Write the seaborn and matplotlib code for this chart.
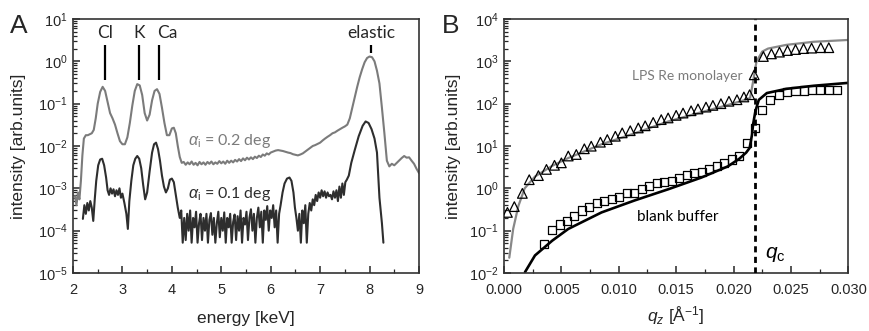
import numpy as np
import matplotlib
matplotlib.use("Agg")
import matplotlib.pyplot as plt
import seaborn as sns
from matplotlib.ticker import MultipleLocator, FormatStrFormatter, LogLocator

# --- panel A: fluorescence spectra (energy in keV, intensity in arb. units) ---
energia_02 = [2.04, 2.07, 2.10, 2.13, 2.16, 2.19, 2.22, 2.26, 2.30, 2.34, 2.38, 2.42, 2.46, 2.50, 2.55,
              2.60, 2.65, 2.70, 2.75, 2.80, 2.85, 2.90, 2.95, 3.00, 3.05, 3.10, 3.15, 3.20, 3.25, 3.30,
              3.35, 3.40, 3.45, 3.50, 3.55, 3.60, 3.65, 3.70, 3.75, 3.80, 3.85, 3.90, 3.95, 4.00, 4.04,
              4.08, 4.12, 4.16, 4.20, 4.24, 4.28, 4.32, 4.36, 4.40, 4.44, 4.48, 4.52, 4.56, 4.60, 4.64,
              4.68, 4.72, 4.76, 4.80, 4.84, 4.88, 4.92, 4.96, 5.00, 5.04, 5.08, 5.12, 5.16, 5.20, 5.24,
              5.28, 5.32, 5.36, 5.40, 5.44, 5.48, 5.52, 5.56, 5.60, 5.64, 5.68, 5.72, 5.76, 5.80, 5.84,
              5.88, 5.92, 5.96, 6.00, 6.05, 6.10, 6.15, 6.20, 6.25, 6.30, 6.35, 6.40, 6.45, 6.50, 6.55,
              6.60, 6.65, 6.70, 6.75, 6.80, 6.85, 6.90, 6.95, 7.00, 7.05, 7.10, 7.15, 7.20, 7.25, 7.30,
              7.35, 7.40, 7.45, 7.50, 7.55, 7.60, 7.65, 7.70, 7.75, 7.80, 7.85, 7.90, 7.95, 8.00, 8.05,
              8.10, 8.15, 8.20, 8.25, 8.30, 8.35, 8.40, 8.45, 8.50, 8.55, 8.60, 8.65, 8.70, 8.75, 8.80,
              8.85, 8.90, 8.95, 9.00]
intens_02 = [6.6e-4, 4.0e-4, 8.0e-4, 5.5e-4, 1.5e-3, 6.0e-3, 1.5e-2, 1.8e-2, 1.8e-2, 1.9e-2, 2.0e-2, 2.4e-2, 4.5e-2, 1.0e-1, 1.9e-1,
             2.5e-1, 2.0e-1, 1.1e-1, 6.0e-2, 4.5e-2, 3.2e-2, 2.0e-2, 1.3e-2, 1.1e-2, 1.1e-2, 1.6e-2, 3.5e-2, 9.0e-2, 2.0e-1, 2.9e-1,
             2.7e-1, 1.6e-1, 6.0e-2, 4.0e-2, 5.5e-2, 1.2e-1, 2.0e-1, 2.2e-1, 1.7e-1, 8.0e-2, 3.5e-2, 1.8e-2, 1.8e-2, 2.6e-2, 2.7e-2,
             2.0e-2, 1.0e-2, 5.5e-3, 4.0e-3, 4.2e-3, 3.6e-3, 4.1e-3, 3.7e-3, 4.3e-3, 3.6e-3, 4.0e-3, 3.5e-3, 4.2e-3, 3.7e-3, 4.1e-3,
             3.6e-3, 4.2e-3, 3.8e-3, 4.3e-3, 3.7e-3, 4.1e-3, 3.8e-3, 4.4e-3, 3.9e-3, 4.3e-3, 3.8e-3, 4.5e-3, 4.0e-3, 4.5e-3, 4.1e-3,
             4.7e-3, 4.3e-3, 4.9e-3, 4.4e-3, 5.1e-3, 4.6e-3, 5.3e-3, 4.8e-3, 5.4e-3, 4.9e-3, 5.6e-3, 5.2e-3, 5.9e-3, 5.5e-3, 6.3e-3,
             5.9e-3, 6.7e-3, 6.3e-3, 7.0e-3, 7.4e-3, 7.8e-3, 8.0e-3, 7.8e-3, 7.6e-3, 7.3e-3, 7.0e-3, 6.8e-3, 6.4e-3, 6.2e-3, 6.0e-3,
             6.3e-3, 6.7e-3, 7.4e-3, 8.2e-3, 9.0e-3, 1.0e-2, 1.05e-2, 1.12e-2, 1.2e-2, 1.35e-2, 1.5e-2, 1.65e-2, 1.8e-2, 2.0e-2, 2.1e-2,
             2.3e-2, 2.5e-2, 2.7e-2, 2.9e-2, 3.2e-2, 4.5e-2, 8.0e-2, 1.4e-1, 2.5e-1, 4.2e-1, 6.5e-1, 9.5e-1, 1.2, 1.3, 1.25,
             1.0, 6.0e-1, 3.0e-1, 8.0e-2, 2.0e-2, 4.5e-3, 3.3e-3, 3.8e-3, 3.5e-3, 4.0e-3, 4.6e-3, 5.2e-3, 5.8e-3, 5.3e-3, 5.4e-3,
             4.5e-3, 3.8e-3, 2.9e-3, 2.3e-3]

energia_01 = [2.20, 2.23, 2.26, 2.29, 2.32, 2.35, 2.38, 2.41, 2.44, 2.47, 2.51, 2.55, 2.59, 2.63, 2.67,
              2.70, 2.73, 2.76, 2.79, 2.82, 2.85, 2.88, 2.91, 2.94, 2.97, 3.00, 3.04, 3.08, 3.11, 3.14,
              3.18, 3.22, 3.26, 3.30, 3.34, 3.38, 3.42, 3.46, 3.50, 3.55, 3.60, 3.64, 3.68, 3.72, 3.76,
              3.80, 3.84, 3.88, 3.92, 3.96, 4.00, 4.04, 4.08, 4.12, 4.16, 4.19, 4.22, 4.25, 4.28, 4.31,
              4.34, 4.37, 4.40, 4.43, 4.46, 4.49, 4.52, 4.55, 4.58, 4.61, 4.64, 4.67, 4.70, 4.73, 4.76,
              4.79, 4.82, 4.85, 4.88, 4.91, 4.94, 4.97, 5.00, 5.03, 5.06, 5.09, 5.12, 5.15, 5.18, 5.21,
              5.24, 5.27, 5.30, 5.33, 5.36, 5.39, 5.42, 5.45, 5.48, 5.51, 5.54, 5.57, 5.60, 5.63, 5.66,
              5.69, 5.72, 5.75, 5.78, 5.81, 5.84, 5.87, 5.90, 5.93, 5.96, 5.99, 6.02, 6.05, 6.08, 6.11,
              6.14, 6.17, 6.20, 6.24, 6.28, 6.33, 6.38, 6.42, 6.46, 6.49, 6.52, 6.55, 6.58, 6.61, 6.64,
              6.67, 6.70, 6.73, 6.76, 6.79, 6.82, 6.85, 6.88, 6.91, 6.94, 6.97, 7.00, 7.03, 7.06, 7.09,
              7.12, 7.15, 7.18, 7.21, 7.24, 7.27, 7.30, 7.33, 7.36, 7.39, 7.42, 7.45, 7.48, 7.51, 7.54,
              7.58, 7.63, 7.70, 7.78, 7.86, 7.92, 7.98, 8.04, 8.10, 8.15, 8.20, 8.25, 8.28]
intens_01 = [1.9e-4, 4.0e-4, 2.5e-4, 4.5e-4, 3.0e-4, 5.0e-4, 3.5e-4, 1.7e-4, 5.5e-4, 1.5e-3, 3.5e-3, 4.8e-3, 5.0e-3, 3.5e-3, 1.8e-3,
             9.0e-4, 7.0e-4, 1.0e-3, 7.5e-4, 9.5e-4, 6.5e-4, 9.0e-4, 7.0e-4, 1.0e-3, 6.0e-4, 7.5e-4, 4.5e-4, 2.5e-4, 1.1e-4, 5.0e-4,
             1.5e-3, 3.5e-3, 5.0e-3, 5.8e-3, 5.0e-3, 3.0e-3, 1.2e-3, 5.5e-4, 8.0e-4, 2.5e-3, 7.0e-3, 1.1e-2, 1.2e-2, 8.5e-3, 4.5e-3,
             2.0e-3, 1.1e-3, 8.0e-4, 1.0e-3, 1.6e-3, 1.7e-3, 1.4e-3, 7.0e-4, 3.5e-4, 2.0e-4, 3.0e-4, 5.2e-5, 2.0e-4, 6.0e-5, 2.5e-4,
             1.0e-4, 3.0e-4, 5.2e-5, 2.0e-4, 1.2e-4, 2.8e-4, 5.2e-5, 1.5e-4, 2.5e-4, 6.0e-5, 2.0e-4, 1.0e-4, 2.5e-4, 5.2e-5, 1.8e-4,
             2.6e-4, 8.0e-5, 2.0e-4, 5.2e-5, 1.5e-4, 2.8e-4, 7.0e-5, 2.0e-4, 1.0e-4, 2.7e-4, 5.2e-5, 2.0e-4, 1.2e-4, 2.5e-4, 5.2e-5,
             1.6e-4, 2.4e-4, 6.0e-5, 2.2e-4, 1.0e-4, 3.0e-4, 5.2e-5, 2.0e-4, 1.4e-4, 2.8e-4, 6.0e-5, 2.0e-4, 3.2e-4, 1.0e-4, 2.5e-4,
             5.2e-5, 2.0e-4, 3.5e-4, 1.2e-4, 2.8e-4, 5.2e-5, 3.0e-4, 1.8e-4, 3.8e-4, 1.0e-4, 3.0e-4, 2.0e-4, 4.0e-4, 1.2e-4, 3.0e-4,
             5.2e-5, 2.5e-4, 4.0e-4, 8.0e-4, 1.3e-3, 1.7e-3, 1.8e-3, 1.5e-3, 8.0e-4, 3.5e-4, 2.0e-4, 1.0e-4, 2.5e-4, 5.2e-5, 3.0e-4,
             1.5e-4, 4.0e-4, 5.2e-5, 2.5e-4, 4.5e-4, 3.0e-4, 5.5e-4, 4.0e-4, 7.0e-4, 5.0e-4, 8.0e-4, 6.0e-4, 9.0e-4, 6.5e-4, 8.5e-4,
             6.0e-4, 8.0e-4, 6.5e-4, 7.0e-4, 5.5e-4, 8.5e-4, 6.0e-4, 9.0e-4, 5.0e-4, 1.1e-3, 6.0e-4, 1.3e-3, 7.0e-4, 1.4e-3, 1.6e-3,
             2.0e-3, 4.0e-3, 8.0e-3, 1.7e-2, 3.0e-2, 3.8e-2, 3.5e-2, 2.5e-2, 1.5e-2, 7.0e-3, 6.0e-4, 1.5e-4, 5.2e-5]

pierwiastki = ["Cl", "K", "Ca"]
pierwiastki_energia = [2.65, 3.335, 3.75]
pierwiastki_tekst_x = [2.65, 3.335, 3.90]
elastic_energia = 8.03

# --- panel B: reflectivity-like curves vs q_z ---
q_lps = [0.0003, 0.0009, 0.0016, 0.0022, 0.0030, 0.0037, 0.0044, 0.0050, 0.0056, 0.0063, 0.0070, 0.0076,
         0.0084, 0.0090, 0.0097, 0.0103, 0.0110, 0.0117, 0.0123, 0.0130, 0.0137, 0.0143, 0.0150, 0.0156,
         0.0163, 0.0169, 0.0176, 0.0182, 0.0189, 0.0196, 0.0203, 0.0209, 0.0214, 0.0218, 0.0226, 0.0233,
         0.0240, 0.0247, 0.0254, 0.0261, 0.0268, 0.0276, 0.0283]
i_lps = [0.27, 0.37, 0.76, 1.6, 2.0, 2.8, 3.5, 4.0, 5.8, 6.3, 8.6, 9.9,
         12.3, 14.2, 17, 20.4, 23, 26.7, 30, 36, 42, 46, 53, 60,
         68, 75, 83, 91, 100, 114, 124, 144, 163, 480, 1300, 1500,
         1650, 1800, 1900, 2000, 2050, 2100, 2100]

q_bufor = [0.00351, 0.00416, 0.00485, 0.00550, 0.00613, 0.00677, 0.00744, 0.00807, 0.00874, 0.00938,
           0.01005, 0.01069, 0.01136, 0.01200, 0.01266, 0.01330, 0.01397, 0.01461, 0.01528, 0.01592,
           0.01658, 0.01722, 0.01786, 0.01853, 0.01920, 0.01984, 0.02048, 0.02117, 0.02189, 0.02247,
           0.02320, 0.02392, 0.02465, 0.02540, 0.02610, 0.02680, 0.02750, 0.02830, 0.02900]
i_bufor = [0.048, 0.105, 0.14, 0.17, 0.22, 0.30, 0.37, 0.44, 0.50, 0.55,
           0.63, 0.76, 0.79, 0.95, 1.13, 1.36, 1.41, 1.49, 1.78, 2.02,
           2.34, 2.42, 2.8, 3.35, 4.0, 4.8, 5.8, 12, 27, 72,
           123, 162, 186, 200, 205, 208, 210, 210, 210]

q_fit_lps = [0.00046, 0.0008, 0.00125, 0.0018, 0.0027, 0.0042, 0.0056, 0.0085, 0.0114, 0.0143, 0.0172,
             0.0195, 0.0213, 0.02145, 0.0217, 0.0220, 0.0225, 0.0230, 0.0246, 0.0270, 0.0300]
i_fit_lps = [0.023, 0.11, 0.38, 1.0, 1.9, 3.4, 5.2, 11, 20, 38, 63,
             93, 130, 140, 330, 1000, 1700, 2000, 2450, 2900, 3200]

q_fit_bufor = [0.00183, 0.0027, 0.0042, 0.0056, 0.0085, 0.0114, 0.0143, 0.0172, 0.0195, 0.0205, 0.0211,
               0.0214, 0.0216, 0.0217, 0.0219, 0.0222, 0.0229, 0.0246, 0.0270, 0.0300]
i_fit_bufor = [0.0105, 0.026, 0.058, 0.11, 0.27, 0.52, 0.95, 1.8, 3.3, 5.0, 7.0,
               9.0, 18, 32, 66, 123, 178, 224, 265, 310]

q_c = 0.0219

# --- style ---
sns.set_style("ticks")
plt.rcParams["font.family"] = ["Liberation Sans", "DejaVu Sans"]
plt.rcParams["mathtext.fontset"] = "custom"
plt.rcParams["mathtext.rm"] = "Liberation Sans"
plt.rcParams["mathtext.it"] = "Liberation Sans:italic"
plt.rcParams["axes.edgecolor"] = "#333333"
plt.rcParams["axes.linewidth"] = 1.2

SZARY = "#7b7b7b"
CIEMNY = "#2e2e2e"
ADNOT = ["Lato", "DejaVu Sans"]

fig = plt.figure(figsize=(8.7, 3.31), dpi=100)
axA = fig.add_axes([0.0839, 0.1752, 0.3977, 0.7674])
axB = fig.add_axes([0.5793, 0.1752, 0.3958, 0.7674])

# panel A
sns.lineplot(x=energia_02, y=intens_02, ax=axA, color=SZARY, linewidth=1.5, estimator=None, sort=False)
sns.lineplot(x=energia_01, y=intens_01, ax=axA, color=CIEMNY, linewidth=1.5, estimator=None, sort=False)
axA.set_yscale("log")
axA.set_xlim(2, 9)
axA.set_ylim(1e-5, 10)
axA.xaxis.set_major_locator(MultipleLocator(1))
axA.xaxis.set_minor_locator(MultipleLocator(0.5))

for nazwa, e_lin, e_txt in zip(pierwiastki, pierwiastki_energia, pierwiastki_tekst_x):
    axA.vlines(e_lin, 0.37, 2.45, color="black", linewidth=1.6)
    axA.text(e_txt, 4.7, nazwa, ha="center", va="center", fontsize=12.5, family=ADNOT)
axA.vlines(elastic_energia, 1.55, 2.45, color="black", linewidth=1.6)
axA.text(8.04, 4.7, "elastic", ha="center", va="center", fontsize=12.5, family=ADNOT)
axA.text(4.33, 1.3e-2, r"$\alpha_{\mathrm{i}}$ = 0.2 deg", ha="left", va="center",
         fontsize=11.5, color=SZARY, family=ADNOT)
axA.text(4.33, 7.2e-4, r"$\alpha_{\mathrm{i}}$ = 0.1 deg", ha="left", va="center",
         fontsize=11.5, color=CIEMNY, family=ADNOT)
axA.set_xlabel("energy [keV]", fontsize=12.5)
axA.set_ylabel("intensity [arb.units]", fontsize=12.5)

# panel B
sns.lineplot(x=q_fit_lps, y=i_fit_lps, ax=axB, color="#888888", linewidth=1.6, estimator=None, sort=False)
sns.lineplot(x=q_fit_bufor, y=i_fit_bufor, ax=axB, color="black", linewidth=1.9, estimator=None, sort=False)
sns.scatterplot(x=q_lps, y=i_lps, ax=axB, marker="^", s=48, color="black", facecolor="none",
                edgecolor="black", linewidth=0.9, zorder=3)
sns.scatterplot(x=q_bufor, y=i_bufor, ax=axB, marker="s", s=34, color="black", facecolor="none",
                edgecolor="black", linewidth=0.9, zorder=3)
axB.axvline(q_c, color="black", linewidth=2.0, linestyle=(0, (2.2, 1.6)), zorder=4)
axB.set_yscale("log")
axB.set_xlim(0, 0.03)
axB.set_ylim(1e-2, 1e4)
axB.xaxis.set_major_locator(MultipleLocator(0.005))
axB.xaxis.set_minor_locator(MultipleLocator(0.0025))
axB.xaxis.set_major_formatter(FormatStrFormatter("%.3f"))
axB.text(0.01113, 440, "LPS Re monolayer", ha="left", va="center", fontsize=10, color=SZARY, family=ADNOT)
axB.text(0.01157, 0.205, "blank buffer", ha="left", va="center", fontsize=11, color="black", family=ADNOT)
axB.text(0.02276, 0.028, r"$q_{\mathrm{c}}$", ha="left", va="center", fontsize=15, color="black")
axB.set_xlabel(r"$q_z$ [Å$^{-1}$]", fontsize=12.5)
axB.set_ylabel("intensity [arb.units]", fontsize=12.5)

for ax in (axA, axB):
    ax.yaxis.set_major_locator(LogLocator(base=10, numticks=12))
    ax.yaxis.set_minor_locator(LogLocator(base=10, subs=np.arange(2, 10), numticks=12))
    ax.tick_params(which="major", direction="in", length=5, width=1.1, labelsize=10.5, pad=4)
    ax.tick_params(axis="x", which="major", pad=7)
    ax.tick_params(which="minor", direction="in", length=3, width=0.9)
    for sp in ax.spines.values():
        sp.set_visible(True)

axA.xaxis.set_label_coords(0.5, -0.15)
axB.xaxis.set_label_coords(0.5, -0.125)
axA.yaxis.set_label_coords(-0.136, 0.5)
axB.yaxis.set_label_coords(-0.125, 0.5)

fig.text(0.022, 0.92, "A", fontsize=19, ha="center", va="center")
fig.text(0.518, 0.92, "B", fontsize=19, ha="center", va="center")

fig.savefig("out.png", dpi=100)
